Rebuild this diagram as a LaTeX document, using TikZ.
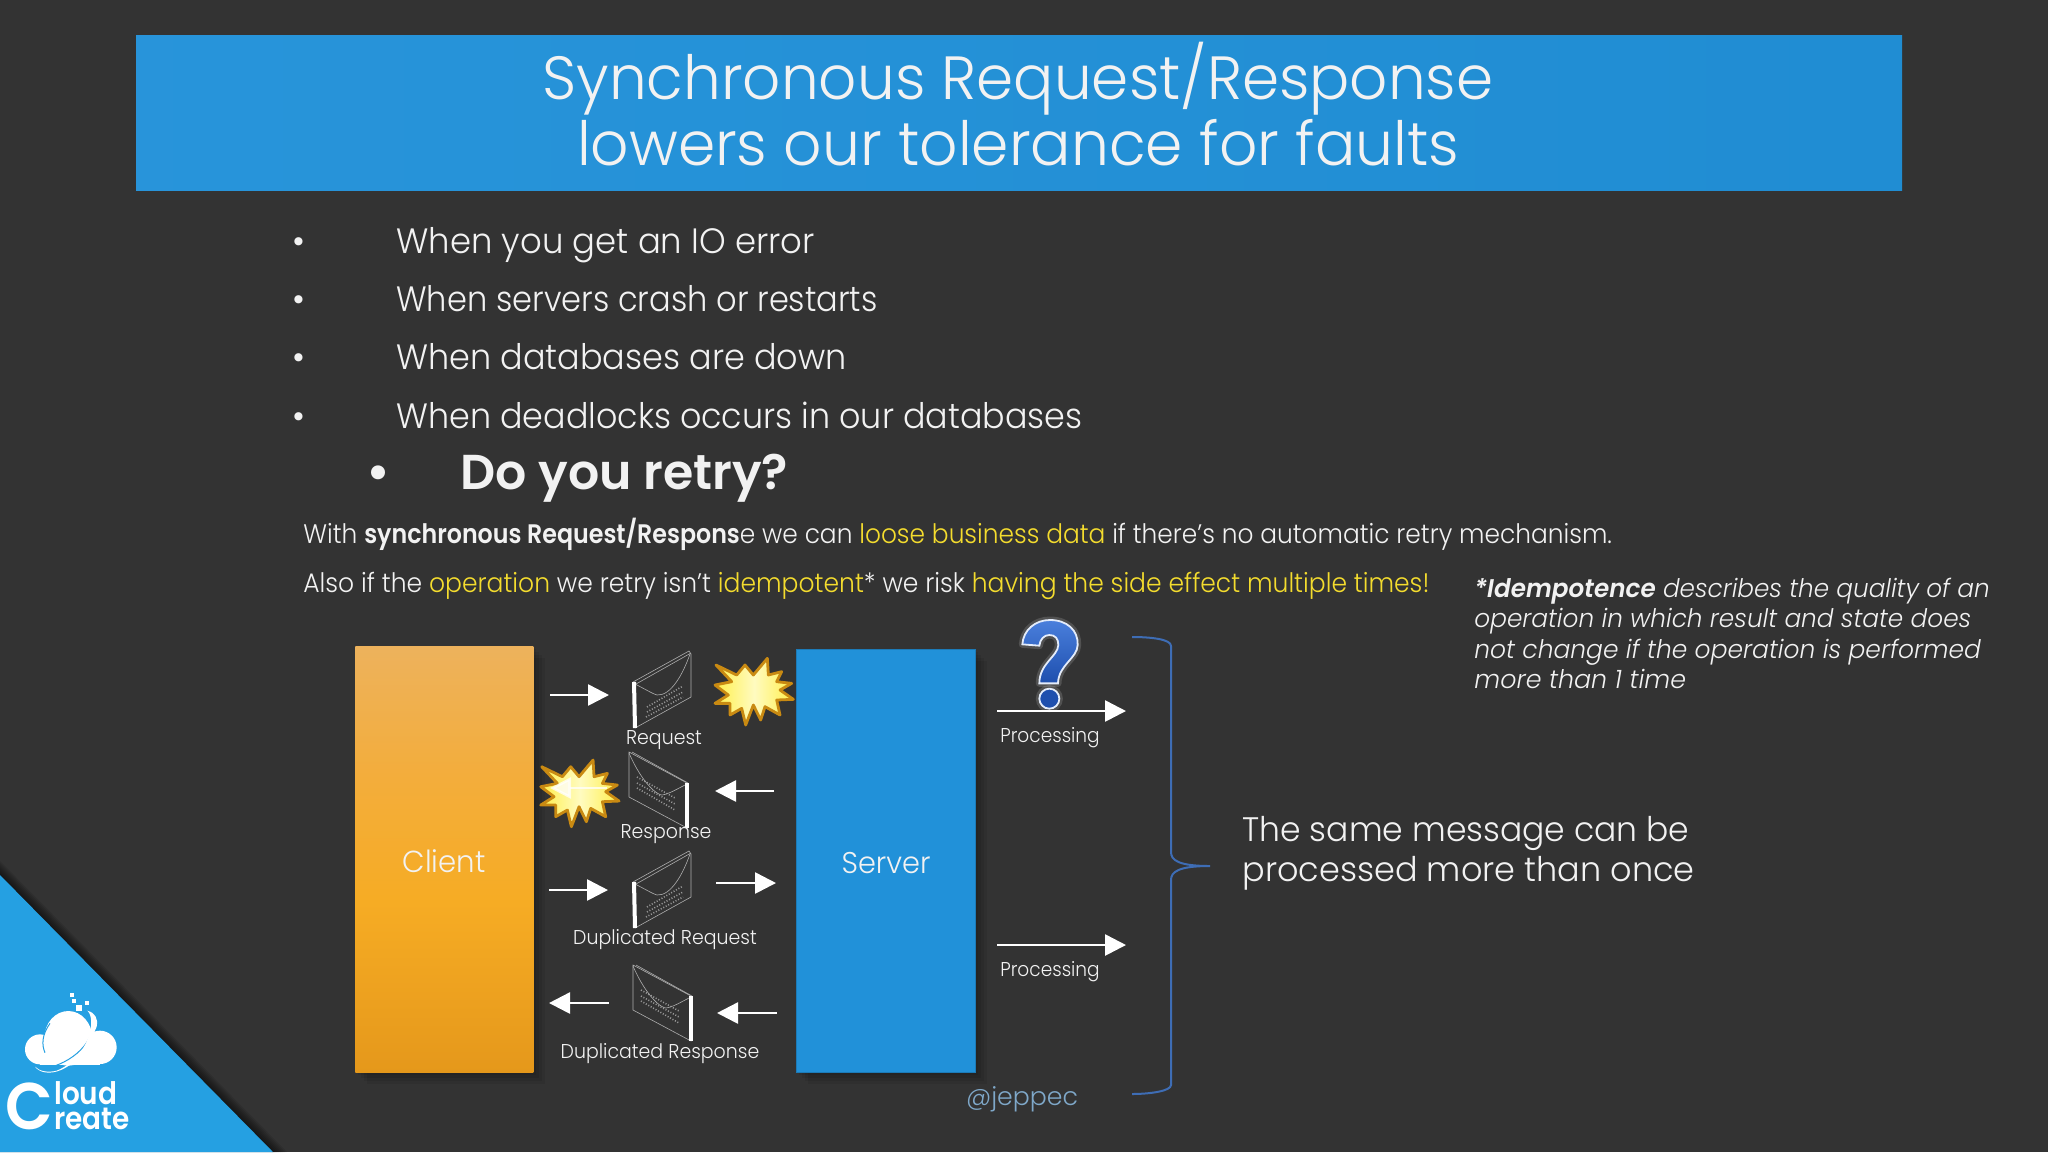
\documentclass[tikz,border=0pt]{standalone}
\usepackage{fontspec}
\setmainfont{Poppins}[UprightFont=* Light,BoldFont=* SemiBold,ItalicFont=* Light Italic,BoldItalicFont=* SemiBold Italic]
\usetikzlibrary{arrows.meta,calc}
\definecolor{bgc}{HTML}{333333}
\definecolor{hdr}{HTML}{2191D9}
\definecolor{txt}{HTML}{F2F2F2}
\definecolor{yel}{HTML}{F4DC2E}
\definecolor{brc}{HTML}{3E6DB5}
\definecolor{tri}{HTML}{25A0E2}
\definecolor{twit}{HTML}{7FA8C9}
\definecolor{cla}{HTML}{EDB25C}
\definecolor{clb}{HTML}{F6AC24}
\definecolor{clm}{HTML}{F3AD3C}
\definecolor{clc}{HTML}{E5981B}
\definecolor{bstl}{HTML}{C98A12}
\definecolor{bsty}{HTML}{FFEF4A}
\definecolor{bstm}{HTML}{FFFBC0}
\definecolor{qa}{HTML}{4A7FDC}
\definecolor{qb}{HTML}{1E4FAE}
\pgfdeclareverticalshading{clientgrad}{100bp}{color(0bp)=(clc); color(25bp)=(clc); color(45bp)=(clb); color(60bp)=(clm); color(75bp)=(cla); color(100bp)=(cla)}
\newcommand{\fs}[1]{\fontsize{#1}{#1}\selectfont}
\newcommand{\sq}[2]{\scalebox{#1}[1]{#2}}
\tikzset{
 lbl/.style={text=txt,inner sep=0pt,font=\fs{10}},
 bul/.style={text=txt,inner sep=0pt,anchor=base west,font=\fs{17.6}},
 para/.style={text=txt,inner sep=0pt,anchor=base west,font=\fs{13.4}},
 idem/.style={text=txt,inner sep=0pt,anchor=base west,font=\fs{12.8}\itshape},
 flow/.style={draw=white,line width=1.3pt,-{Triangle[length=10.5pt,width=10.5pt]}},
 env/.style={draw=white!60!bgc,line width=.3pt},
 bits/.style={draw=white!50!bgc,line width=.8pt,dash pattern=on .5pt off .9pt},
 burst/.pic={
  \begin{scope}[x=.16667pt,y=-.16667pt]
   \draw[line width=1.4pt,draw=bstl,line join=round,left color=bsty,right color=bsty,middle color=bstm]
   (1128,165)--(1190,195)--(1215,165)--(1240,195)--(1282,145)--(1285,195)--(1325,185)--(1310,215)--(1355,220)--(1320,240)--(1360,268)--(1310,270)--(1320,315)--(1275,290)--(1262,330)--(1240,285)--(1217,345)--(1205,295)--(1170,315)--(1170,280)--(1125,280)--(1165,255)--(1125,225)--(1175,215)--cycle;
  \end{scope}},
 reqenv/.pic={
  \draw[env] (0,0)--(56,-31)--(58,-28)--(58,15)--(2,46);
  \draw[env] (3,2)--(58,-29);
  \draw[env] (2,2) .. controls (12,7) and (20,12) .. (24,13) .. controls (38,14) and (50,-8) .. (57,-28);
  \draw[white,line width=2pt] (1,0)--(2,46);
  \draw[bits] (14,25)--(50,4);
  \draw[bits] (14,30)--(50,10);
  \draw[bits] (13,35)--(50,15);
 },
 respenv/.pic={
  \draw[env] (0,0)--(58,31)--(58,76)--(0,45)--cycle;
  \draw[env] (3,0)--(59,31);
  \draw[env] (0,1) .. controls (13,31) and (28,43) .. (33,43) .. controls (40,42) and (48,37) .. (56,33);
  \draw[white,line width=2pt] (58,31)--(58,76);
  \draw[bits] (8,25)--(46,46);
  \draw[bits] (8,31)--(46,52);
  \draw[bits] (8,36)--(46,58);
 }
}
\begin{document}
\begin{tikzpicture}[x=.5pt,y=-.5pt]
\path[use as bounding box,fill=bgc] (0,0) rectangle (2048,1152);
% header
\path[left color=hdr!97!white,right color=hdr!97!black] (136,35) rectangle (1902,190);
\node[text=txt,inner sep=0pt,font=\fs{30.5}] (t1) at (1018,79) {\sq{.978}{Synchronous Request/Response}};
\node[text=txt,inner sep=0pt,font=\fs{30.5}] (t2) at (1018,143) {\sq{.982}{lowers our tolerance for faults}};
% bullets
\foreach \n/\y/\f/\s in {a/253/.962/When you get an IO error,b/311/.91/When servers crash or restarts,c/369/.95/When databases are down,d/428/.947/When deadlocks occurs in our databases}{
 \node[bul] (bu\n) at (292,\y) {•};
 \node[bul] (li\n) at (396,\y) {\sq{\f}{\s}};
}
\node[bul,font=\fs{25}\bfseries] (bue) at (366,489) {•};
\node[bul,font=\fs{24.5}\bfseries] (lie) at (460,489) {Do you retry?};
\node[para] (p1) at (303,543) {\sq{.928}{With \sq{.955}{\textbf{synchronous Request/Respons}}e we can \textcolor{yel}{loose business data} if there’s no automatic retry mechanism.}};
\node[para] (p2) at (303,592) {\sq{.934}{Also if the \textcolor{yel}{operation} we retry isn’t \textcolor{yel}{idempotent}* we risk \textcolor{yel}{having the side effect multiple times!}}};
\node[idem] (i1) at (1474,597) {\sq{.965}{\textbf{*Idempotence} describes the quality of an}};
\node[idem] (i2) at (1474,627) {\sq{.968}{operation in which result and state does}};
\node[idem] (i3) at (1474,658) {\sq{.975}{not change if the operation is performed}};
\node[idem] (i4) at (1474,688) {\sq{.99}{more than 1 time}};
% boxes
\foreach \k in {3,6,9,12}{
 \fill[black,opacity=.07] (355+\k,646+\k) rectangle (533+\k,1072+\k);
 \fill[black,opacity=.07] (796+\k,649+\k) rectangle (975+\k,1072+\k);
}
\node[minimum width=89pt,minimum height=213pt,inner sep=0pt,anchor=north west,shade,shading=clientgrad] (client) at (355,646) {};
\node[text=txt,inner sep=0pt,font=\fs{15.2}] (clabel) at (444,861) {\sq{.96}{Client}};
\node[minimum width=89.5pt,minimum height=211.5pt,inner sep=0pt,anchor=north west,fill=hdr,draw=hdr!85!black,line width=.6pt] (server) at (796,649) {};
\node[text=txt,inner sep=0pt,font=\fs{15}] (slabel) at (886,863) {\sq{.96}{Server}};
% envelopes
\pic (e1) at (633,682) {reqenv};
\pic (e2) at (629,752) {respenv};
\pic (e3) at (633,882) {reqenv};
\pic (e4) at (633,965) {respenv};
\node[lbl] (lreq) at (664,740) {\sq{.947}{Request}};
\node[lbl] (lres) at (666,834) {\sq{.947}{Response}};
\node[lbl] (ldrq) at (665,940) {\sq{.947}{Duplicated Request}};
\node[lbl] (ldrs) at (660,1054) {\sq{.947}{Duplicated Response}};
% bursts
\pic (b1) at (340,610) {burst};
\pic (b2) at (165.7,711.7) {burst};
% arrows
\foreach \n/\xa/\ya/\xb/\yb in {a/550/695/609/695,b/774/791/715/791,c/549/890/608/890,d/716/883/776/883,e/609/1003/549/1003,f/777/1013/717/1013,g/997/711/1126/711,h/997/945/1126/945}{
 \coordinate (s\n) at (\xa,\ya);
 \coordinate (t\n) at (\xb,\yb);
 \draw[flow] (s\n)--(t\n);
}
\coordinate (si) at (607,788); \coordinate (ti) at (550,788);
\draw[flow,opacity=.75] (si)--(ti);
\node[lbl] (pr1) at (1050,738) {\sq{.927}{Processing}};
\node[lbl] (pr2) at (1050,972) {\sq{.927}{Processing}};
% question mark
\begin{scope}[shift={(960,600)},x=.16667pt,y=-.16667pt]
 \def\qpath{(187,133) .. controls (190,90) and (225,60) .. (270,60) .. controls (320,60) and (355,90) .. (353,135) .. controls (352,175) and (295,195) .. (294,250) -- (238,250) .. controls (238,190) and (293,170) .. (295,135) .. controls (295,115) and (285,105) .. (268,105) .. controls (252,105) and (240,118) .. (238,137) -- cycle}
 \draw[white,opacity=.15,line width=3.5pt,line join=round] \qpath;
 \draw[white,opacity=.15,line width=3.5pt] (268,296) circle (30);
 \draw[draw=white!85!qa,line width=.9pt,top color=qa,bottom color=qb] \qpath;
 \draw[draw=white!85!qa,line width=.9pt,fill=qb] (268,296) circle (30);
\end{scope}
% brace
\coordinate (bra) at (1132,637); \coordinate (brb) at (1132,1094); \coordinate (brt) at (1210,866);
\draw[brc,line width=1pt] (bra) .. controls (1150,637) and (1171,639) .. (1171,646) -- (1171,852) .. controls (1171,860) and (1178,866) .. (brt) .. controls (1178,866) and (1171,872) .. (1171,880) -- (1171,1085) .. controls (1171,1091) and (1150,1094) .. (brb);
\node[text=txt,inner sep=0pt,anchor=base west,font=\fs{17}] (m1) at (1242,841) {\sq{.97}{The same message can be}};
\node[text=txt,inner sep=0pt,anchor=base west,font=\fs{17}] (m2) at (1242,881) {\sq{.985}{processed more than once}};
\node[text=twit,inner sep=0pt,font=\fs{12.6}] (tw) at (1022,1099) {@jeppec};
% corner
\foreach \k in {2,4,...,14}{
 \fill[black,opacity=.09] (0,875-\k) -- (273+\k,1152) -- (0,1152) -- cycle;
}
\fill[tri] (0,875) -- (273,1152) -- (0,1152) -- cycle;
\begin{scope}[shift={(0,860)},x=.16667pt,y=-.16667pt]
 \fill[white] (205,535) ellipse (72 and 82);
 \fill[white] (120,568) circle (45);
 \fill[white] (300,562) circle (50);
 \fill[white] (120,565) rectangle (300,614);
 \foreach \a/\b/\s in {216/405/12,222/423/10,238/444/18,262/430/12}{
  \fill[white] (\a-\s/2,\b-\s/2) rectangle (\a+\s/2,\b+\s/2);
 }
 \draw[tri,line width=.5pt] (150,490) .. controls (125,525) and (125,555) .. (135,578);
 \draw[tri,line width=.5pt] (280,480) .. controls (285,540) and (225,610) .. (125,628);
 \fill[white] (105,620) .. controls (130,655) and (230,650) .. (290,500) .. controls (295,475) and (285,458) .. (262,452) .. controls (290,475) and (270,590) .. (170,632) .. controls (145,638) and (120,635) .. (105,620) -- cycle;
\end{scope}
\node[text=white,inner sep=0pt,anchor=base west,font=\fs{33}\bfseries] (lgc) at (5,1129) {\sq{.94}{C}};
\node[text=white,inner sep=0pt,anchor=base west,font=\fs{15.5}] (lgl) at (54,1104) {\sq{.9}{\textbf{loud}}};
\node[text=white,inner sep=0pt,anchor=base west,font=\fs{15.5}] (lgr) at (54,1129) {\sq{.9}{\textbf{reate}}};
\end{tikzpicture}
\end{document}
